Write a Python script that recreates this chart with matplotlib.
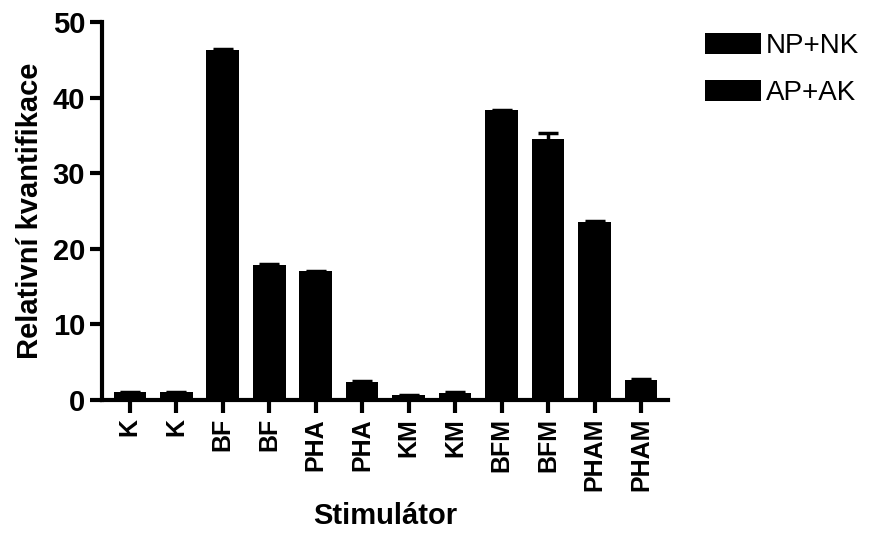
import numpy as np
import matplotlib.pyplot as plt

plt.rcParams['font.family'] = ['Liberation Sans', 'DejaVu Sans']

stimuli = ['K', 'BF', 'PHA', 'KM', 'BFM', 'PHAM']
np_nk = [1.0, 46.3, 17.0, 0.6, 38.3, 23.5]
np_nk_err = [0.1, 0.15, 0.1, 0.1, 0.1, 0.1]
ap_ak = [1.0, 17.8, 2.3, 0.9, 34.5, 2.6]
ap_ak_err = [0.1, 0.15, 0.15, 0.1, 0.8, 0.1]

fig = plt.figure(figsize=(8.71, 5.36), dpi=100)
ax = fig.add_axes([0.117, 0.254, 0.650, 0.705])

x1 = np.arange(len(stimuli)) * 2
x2 = x1 + 1
w = 0.7
ax.bar(x1, np_nk, w, color='black', label='NP+NK')
ax.bar(x2, ap_ak, w, color='black', label='AP+AK')
for xs, ys, es in [(x1, np_nk, np_nk_err), (x2, ap_ak, ap_ak_err)]:
    ax.errorbar(xs, ys, yerr=es, fmt='none', ecolor='black',
                elinewidth=2.5, capsize=7, capthick=2.5)

labels = [s for s in stimuli for _ in range(2)]
ax.set_xticks(np.arange(len(labels)))
ax.set_xticklabels(labels, rotation=90, fontsize=18, fontweight='bold')
ax.set_xlim(-0.6, len(labels) - 1 + 0.58)
ax.set_ylim(0, 50)
ax.set_yticks([0, 10, 20, 30, 40, 50])
ax.tick_params(axis='y', labelsize=21, width=3, length=9, pad=3)
ax.tick_params(axis='x', width=3, length=9, pad=4)
for lab in ax.get_yticklabels():
    lab.set_fontweight('bold')

for side in ['top', 'right']:
    ax.spines[side].set_visible(False)
for side in ['left', 'bottom']:
    ax.spines[side].set_linewidth(3)

ax.set_ylabel('Relativní kvantifikace', fontsize=21, fontweight='bold', labelpad=6)
ax.set_xlabel('Stimulátor', fontsize=21, fontweight='bold', labelpad=8)

fig.legend(*ax.get_legend_handles_labels(), loc='upper left',
           bbox_to_anchor=(705 / 871, 1 - 33 / 536), frameon=False,
           borderpad=0, borderaxespad=0,
           fontsize=20, handlelength=2.0, handleheight=0.8,
           handletextpad=0.2, labelspacing=0.75)

fig.savefig('out.png', dpi=100)
